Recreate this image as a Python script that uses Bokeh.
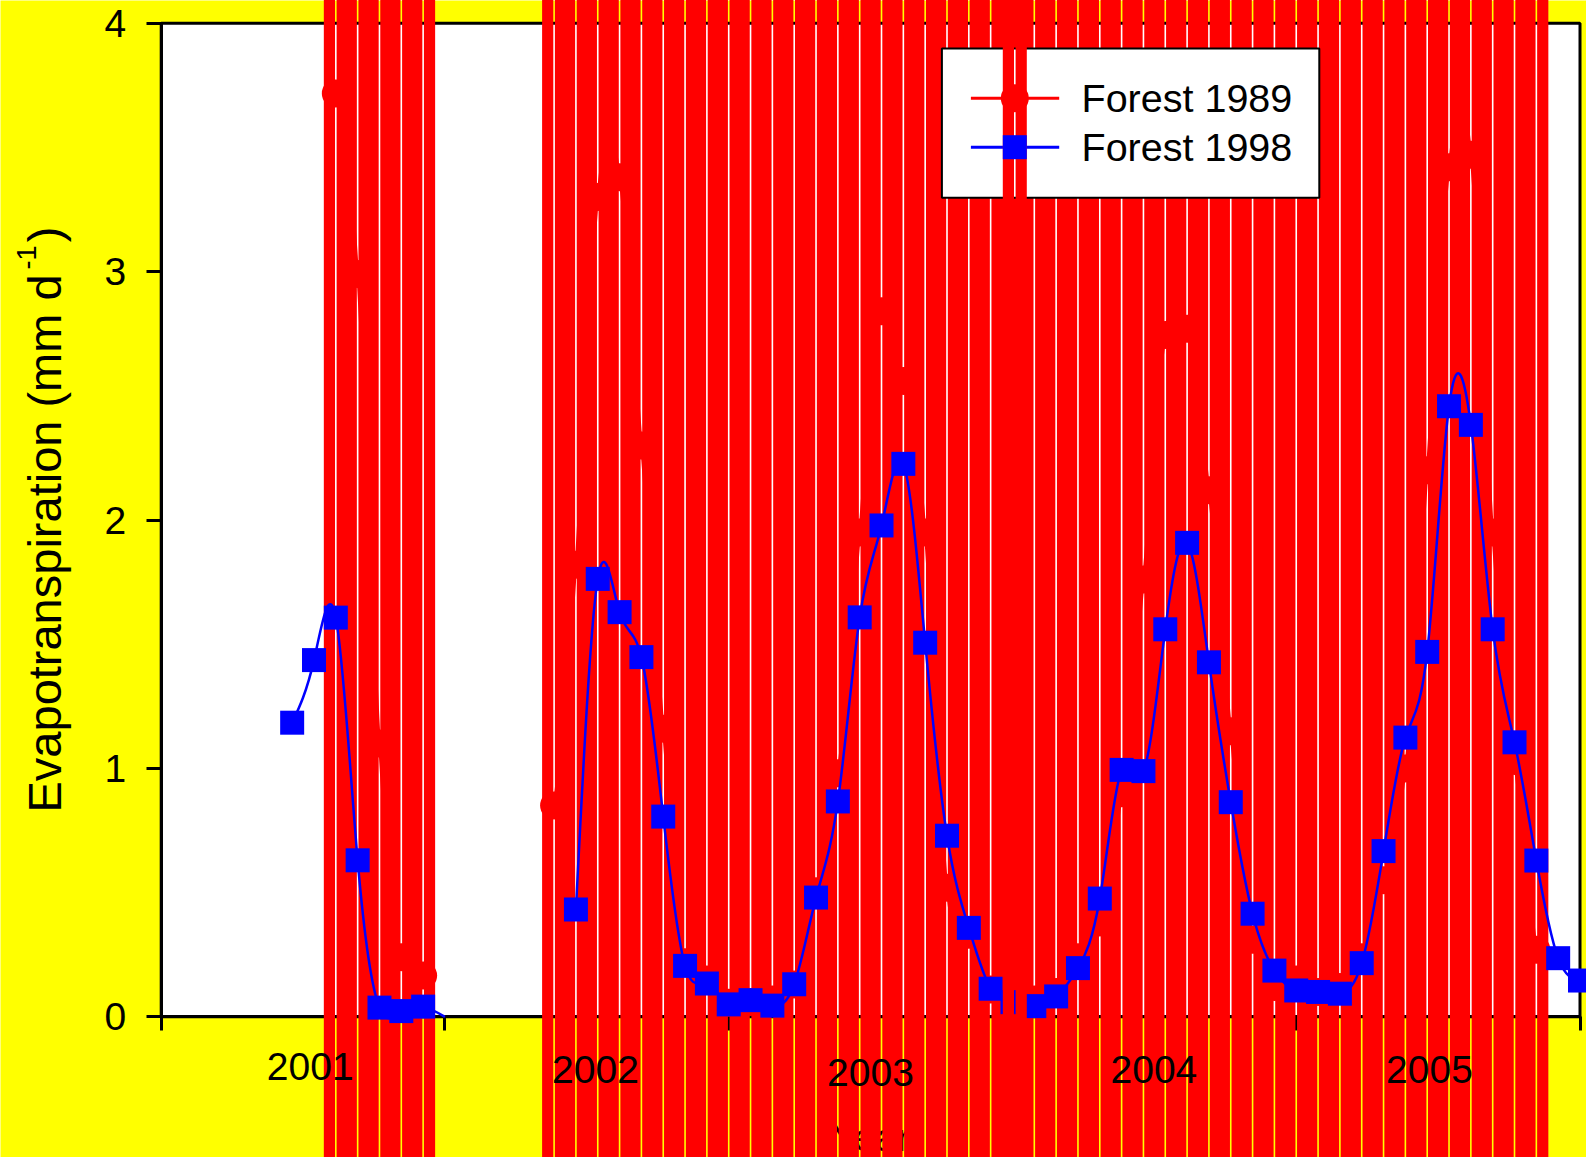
import numpy as np
from bokeh.core.properties import value
from bokeh.embed import file_html
from bokeh.models import FixedTicker, LinearAxis, Range1d
from bokeh.plotting import figure
from bokeh.resources import INLINE

# ---- data (x = sampling step, 13 per labelled year) ----
year_labels = ["2001", "2002", "2003", "2004", "2005"]
y_ticks = [0, 1, 2, 3, 4]
x_ticks = [0, 13, 26, 39, 52, 65]

steps_1989_a = [8, 9, 10, 11, 12]
forest_1989_a = [3.717, 2.99, 1.10, 0.24, 0.166]
steps_1989_b = list(range(18, 64))
forest_1989_b = [0.851, 1.82, 3.30, 3.38, 2.30, 1.16, 0.22, 0.15, 0.057, 0.06, 0.07, 0.13,
                 0.505, 0.98, 1.95, 2.84, 2.56, 1.95, 0.52, 0.33, 0.11, 0.05, 0.07, 0.10,
                 0.24, 0.38, 0.90, 1.76, 2.745, 2.77, 2.12, 1.15, 0.31, 0.12, 0.15, 0.10,
                 0.12, 0.24, 0.55, 1.00, 2.20, 3.42, 3.47, 1.95, 1.03, 0.27]

steps_1998_a = [6, 7, 8, 9, 10, 11, 12]
forest_1998_a = [1.184, 1.436, 1.607, 0.63, 0.037, 0.023, 0.041]
tail_step_1998_a = 13
tail_value_1998_a = 0.0
steps_1998_b = list(range(19, 66))
forest_1998_b = [0.432, 1.763, 1.629, 1.448, 0.806, 0.205, 0.134, 0.05, 0.067, 0.045, 0.131,
                 0.48, 0.867, 1.608, 1.978, 2.226, 1.506, 0.729, 0.358, 0.113, 0.059, 0.043,
                 0.082, 0.196, 0.476, 0.994, 0.989, 1.56, 1.908, 1.427, 0.864, 0.415, 0.186,
                 0.106, 0.10, 0.093, 0.216, 0.667, 1.124, 1.469, 2.458, 2.383, 1.56, 1.105,
                 0.629, 0.236, 0.146]

# ---- page geometry ----
W, H = 1586, 1157
LEFT, RIGHT, TOP, BOTTOM = 160.7, 1579.5, 22.7, 1016.3
PX_X = (RIGHT - LEFT) / 65
PX_Y = (BOTTOM - TOP) / 4


def X(px):
    return (px - LEFT) / PX_X


def Y(py):
    return (BOTTOM - py) / PX_Y


FONT = value("Liberation Sans")
RED, BLUE, YELLOW = "#ff0000", "#0000ff", "#ffff00"
HALF = 12 / PX_X
GAP = 0.8 / PX_X
TOPV, BOTV = Y(-10), Y(H + 10)

p = figure(width=W, height=H, output_backend="svg", toolbar_location=None,
           x_range=Range1d(X(0), X(W)), y_range=Range1d(Y(H), Y(0)),
           x_axis_type=None, y_axis_type=None, min_border=0,
           background_fill_color=YELLOW, border_fill_color=YELLOW)
p.grid.visible = False
p.outline_line_color = None

# plot area and frame
p.quad(left=[0], right=[65], bottom=[0], top=[4], fill_color="white",
       line_color="black", line_width=3, level="glyph")

# x-axis title, hidden behind the bars except in the seams
p.text(x=[X(870)], y=[Y(1137)], text=["Year"], text_font=FONT, text_font_size="39px",
       text_align="center", text_baseline="middle", text_color="black", level="glyph")

# axes
xaxis = LinearAxis(fixed_location=0, bounds=(0, 65), ticker=FixedTicker(ticks=x_ticks))
xaxis.major_label_overrides = {t: "" for t in x_ticks}
xaxis.major_tick_out = 14
xaxis.major_tick_in = 0
xaxis.minor_tick_line_color = None
xaxis.major_tick_line_width = 3
xaxis.axis_line_width = 3
p.add_layout(xaxis, "below")

yaxis = LinearAxis(fixed_location=0, bounds=(0, 4), ticker=FixedTicker(ticks=y_ticks))
yaxis.major_tick_out = 15
yaxis.major_tick_in = 0
yaxis.minor_tick_line_color = None
yaxis.major_tick_line_width = 3
yaxis.axis_line_width = 3
yaxis.major_label_standoff = 20
yaxis.major_label_text_font = "Liberation Sans"
yaxis.major_label_text_font_size = "39px"
yaxis.major_label_text_color = "black"
p.add_layout(yaxis, "left")

# y-axis title pieces
p.text(x=[X(44)], y=[Y(812)], text=["Evapotranspiration (mm d"], angle=1.5708,
       text_font=FONT, text_font_size="47px", text_align="left",
       text_baseline="middle", text_color="black")
p.text(x=[X(25.5)], y=[Y(257)], text=["-1"], angle=1.5708, text_font=FONT,
       text_font_size="27px", text_align="center", text_baseline="middle",
       text_color="black")
p.text(x=[X(44)], y=[Y(234)], text=[")"], angle=1.5708, text_font=FONT,
       text_font_size="47px", text_align="center", text_baseline="middle",
       text_color="black")


def bar_sides(steps):
    lefts = [s - HALF for s in steps] + [s + GAP for s in steps]
    rights = [s - GAP for s in steps] + [s + HALF for s in steps]
    return lefts, rights


def add_curve(xs, ys, color):
    # the line runs through the read points as a natural cubic spline, drawn as Bezier segments
    ys = np.asarray(ys, dtype=float)
    n = len(ys)
    A = np.zeros((n, n))
    b = np.zeros(n)
    A[0, 0], A[0, 1], b[0] = 2, 1, 3 * (ys[1] - ys[0])
    A[-1, -1], A[-1, -2], b[-1] = 2, 1, 3 * (ys[-1] - ys[-2])
    for i in range(1, n - 1):
        A[i, i - 1], A[i, i], A[i, i + 1] = 1, 4, 1
        b[i] = 3 * (ys[i + 1] - ys[i - 1])
    t = np.linalg.solve(A, b)
    xs = np.asarray(xs, dtype=float)
    p.bezier(x0=xs[:-1], y0=ys[:-1], x1=xs[1:], y1=ys[1:],
             cx0=xs[:-1] + 1 / 3, cy0=ys[:-1] + t[:-1] / 3,
             cx1=xs[1:] - 1 / 3, cy1=ys[1:] - t[1:] / 3,
             line_color=color, line_width=2.5, level="annotation")


# 1989 series: enormous error bars, then line and circles
all_steps = steps_1989_a + steps_1989_b
lefts, rights = bar_sides(all_steps)
p.quad(left=lefts, right=rights, bottom=BOTV, top=TOPV, fill_color=RED, line_color=None,
       level="annotation")
add_curve(steps_1989_a, forest_1989_a, RED)
add_curve(steps_1989_b, forest_1989_b, RED)
p.scatter(all_steps, forest_1989_a + forest_1989_b, marker="circle", size=28,
          fill_color=RED, line_color=None, level="annotation")

# 1998 series
add_curve(steps_1998_a + [tail_step_1998_a], forest_1998_a + [tail_value_1998_a], BLUE)
add_curve(steps_1998_b, forest_1998_b, BLUE)
p.scatter(steps_1998_a + steps_1998_b, forest_1998_a + forest_1998_b, marker="square", size=24,
          fill_color=BLUE, line_color=None, level="annotation")

# year labels, sitting above the bars
label_px = [(309.7, 1066), (595, 1069.3), (870, 1071.7), (1153.4, 1069.3), (1429, 1069.3)]
p.text(x=[X(a) for a, _ in label_px], y=[Y(b) for _, b in label_px], text=year_labels,
       text_font=FONT, text_font_size="39px", text_align="center",
       text_baseline="middle", text_color="black", level="overlay")

# legend
p.quad(left=[X(941.4)], right=[X(1318.8)], bottom=[Y(197.3)], top=[Y(48)], fill_color="white",
       line_color="black", line_width=2, level="overlay")
p.line([X(970.4), X(1058.7)], [Y(97.7), Y(97.7)], line_color=RED, line_width=3, level="overlay")
p.line([X(970.4), X(1058.7)], [Y(146.7), Y(146.7)], line_color=BLUE, line_width=3, level="overlay")
key_l, key_r = bar_sides([X(1014.3)])
p.quad(left=key_l, right=key_r, bottom=BOTV, top=TOPV, fill_color=RED, line_color=None, level="overlay")
p.scatter([X(1014.3)], [Y(97.7)], marker="circle", size=28, fill_color=RED, line_color=None, level="overlay")
p.scatter([X(1014.3)], [Y(146.7)], marker="square", size=24, fill_color=BLUE, line_color=None, level="overlay")
p.text(x=[X(1081), X(1081)], y=[Y(97.7), Y(146.7)], text=["Forest 1989", "Forest 1998"],
       text_font=FONT, text_font_size="39.5px", text_align="left",
       text_baseline="middle", text_color="black", level="overlay")

html = file_html(p, INLINE)
html = html.replace("<body>", '<body style="margin:0;background:#ffff00;overflow:hidden">', 1)
open("out.html", "w").write(html)
